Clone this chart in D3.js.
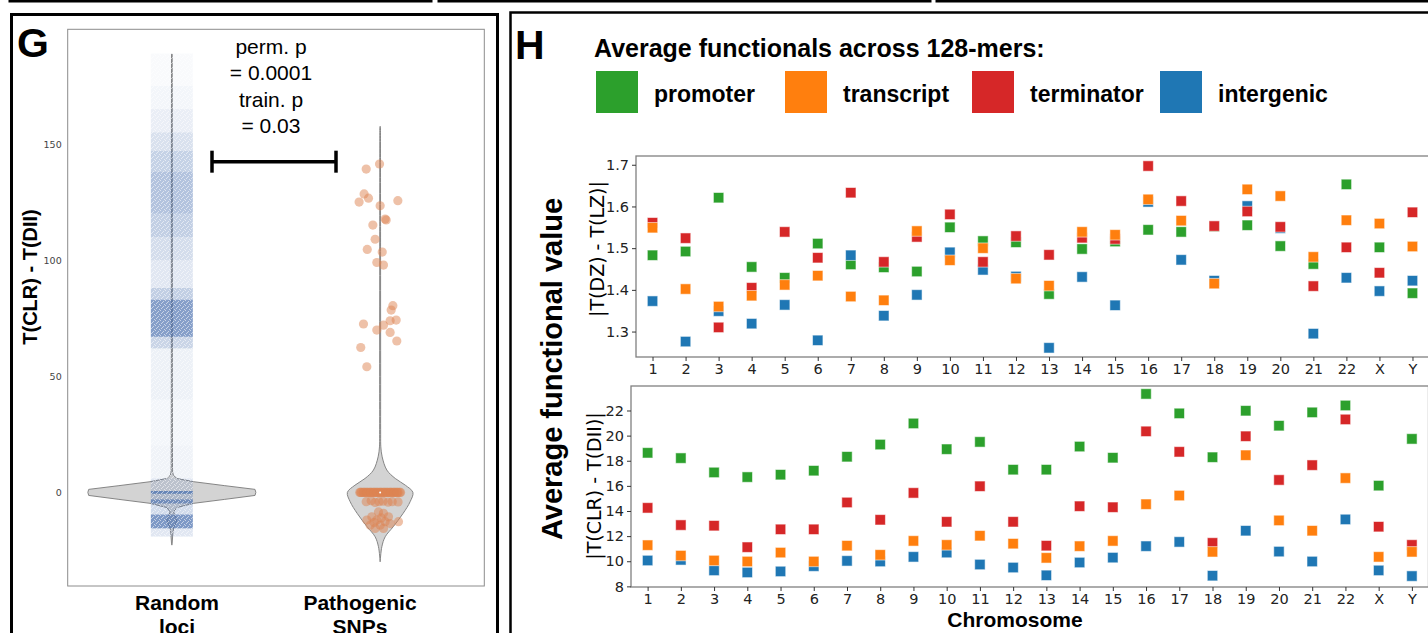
<!DOCTYPE html>
<html>
<head>
<meta charset="utf-8">
<script src="https://cdn.jsdelivr.net/npm/d3@7"></script>
<style>
body { margin: 0; background: #fff; }
svg { display: block; }
</style>
</head>
<body>
<script>
// page size
var w = 1428;
var h = 633;

var sansFont = "'Liberation Sans', Arial, sans-serif";
var dvFont = "'DejaVu Sans', sans-serif";

// ---------- panel G data ----------
var gCategories = ["Random loci", "Pathogenic SNPs"];
var gTicks = [0, 50, 100, 150];
var gPvalText = ["perm. p", "= 0.0001", "train. p", "= 0.03"];

// random loci strip, read as density bands (value low, value high, density 0..1)
var randBandLo  = [175, 165, 155, 147, 138, 120, 110, 100, 88, 83, 67, 62, 40, 20, 6, 0.6, -0.6, -3, -4.8, -9.5, -15.5];
var randBandHi  = [189, 175, 165, 155, 147, 138, 120, 110, 100, 88, 83, 67, 62, 40, 20, 6, 0.6, -0.6, -3, -4.8, -9.5];
var randBandDen = [0.04, 0.08, 0.14, 0.25, 0.38, 0.5, 0.4, 0.28, 0.2, 0.4, 0.8, 0.35, 0.12, 0.08, 0.1, 0.2, 0.95, 0.35, 0.85, 0.3, 0.85];
randBandLo.push(-19); randBandHi.push(-15.5); randBandDen.push(0.2);

// violin outlines (value, relative density)
var randViolinVal = [188.7, 150, 100, 50, 20, 10, 8.7, 7.4, 6.0, 4.6, 2.9, 1.3, 0, -1.3, -3.0, -4.7, -6.5, -8.4, -9.8, -11.5, -13.2, -14.9, -17.5, -21.8, -22.7];
var randViolinDen = [0.004, 0.005, 0.006, 0.006, 0.007, 0.008, 0.01, 0.018, 0.06, 0.26, 0.63, 0.99, 1.0, 0.99, 0.63, 0.26, 0.06, 0.02, 0.036, 0.06, 0.048, 0.024, 0.012, 0.004, 0];
var patViolinVal = [157.5, 100, 50, 25, 19.6, 15.3, 9.6, 6.0, 3.1, 0, -4.0, -9.0, -14.8, -19.1, -23.4, -29.9];
var patViolinDen = [0.004, 0.005, 0.006, 0.006, 0.008, 0.024, 0.08, 0.18, 0.30, 0.39, 0.357, 0.274, 0.155, 0.06, 0.02, 0];

// pathogenic SNP points: jitter (category units) and value
var patJitter = [-0.003, -0.067, -0.077, -0.056, -0.101, 0.085, 0.0, 0.024, 0.029, -0.035, -0.024, -0.062, 0.010, -0.016, 0.016,
                 0.061, 0.053, -0.080, 0.048, 0.077, 0.016, -0.016, 0.048, 0.080, -0.093, -0.064,
                 -0.098, -0.090, -0.082, -0.074, -0.066, -0.058, -0.050, -0.042, -0.034, -0.026, -0.018, -0.010, -0.002,
                 0.006, 0.014, 0.022, 0.030, 0.038, 0.046, 0.054, 0.062, 0.070, 0.078, 0.086, 0.094, 0.098,
                 -0.094, -0.078, -0.062, -0.046, -0.030, -0.014, 0.002, 0.018, 0.034, 0.050, 0.066, 0.082,
                 -0.067, -0.043, -0.024, -0.005, 0.014, 0.038, 0.058, 0.086,
                 -0.008, 0.016, -0.040, 0.040, -0.064, -0.016, 0.024, 0.088, -0.048, 0.0, 0.048, -0.024, 0.016, 0.005, -0.029];
var patValue  = [141.4, 139.2, 128.5, 126.7, 125.0, 125.6, 123.4, 117.7, 117.3, 115.1, 109.0, 104.6, 103.5, 99.0, 97.9,
                 80.4, 78.5, 72.5, 73.9, 74.2, 72.0, 69.9, 68.9, 65.2, 62.4, 54.1,
                 0, 0, 0, 0, 0, 0, 0, 0, 0, 0, 0, 0, 0,
                 0, 0, 0, 0, 0, 0, 0, 0, 0, 0, 0, 0, 0,
                 0, 0, 0, 0, 0, 0, 0, 0, 0, 0, 0, 0,
                 -4.0, -3.6, -4.3, -4.0, -3.8, -4.2, -4.0, -4.1,
                 -8.4, -9.0, -10.5, -10.5, -11.9, -11.9, -12.6, -12.6, -14.1, -14.1, -13.4, -15.5, -15.5, -11.0, -13.0];

// ---------- panel H data ----------
var chromosomes = ["1","2","3","4","5","6","7","8","9","10","11","12","13","14","15","16","17","18","19","20","21","22","X","Y"];
var seriesNames = ["promoter", "transcript", "terminator", "intergenic"];
var dzTicks  = [1.3, 1.4, 1.5, 1.6, 1.7];
var clrTicks = [8, 10, 12, 14, 16, 18, 20, 22];

// |T(DZ) - T(LZ)|
var dzPromoter   = [1.483,1.492,1.621,1.455,1.429,1.511,1.461,1.454,1.444,1.550,1.517,1.514,1.390,1.498,1.516,1.544,1.539,1.552,1.555,1.505,1.462,1.653,1.502,1.392];
var dzTranscript = [1.549,1.402,1.360,1.386,1.412,1.434,1.384,1.375,1.541,1.471,1.500,1.427,1.410,1.539,1.532,1.617,1.566,1.415,1.641,1.625,1.479,1.567,1.559,1.504];
var dzTerminator = [1.561,1.524,1.310,1.405,1.539,1.477,1.633,1.467,1.527,1.581,1.467,1.529,1.484,1.525,1.522,1.697,1.613,1.553,1.588,1.551,1.409,1.502,1.441,1.586];
var dzIntergenic = [1.373,1.276,1.349,1.319,1.364,1.279,1.483,1.338,1.388,1.490,1.448,1.432,1.261,1.431,1.363,1.611,1.472,1.422,1.601,1.548,1.295,1.429,1.397,1.422];

// |T(CLR) - T(DII)|
var clrPromoter   = [18.63,18.21,17.07,16.70,16.89,17.21,18.32,19.29,20.97,18.92,19.50,17.29,17.29,19.13,18.24,23.32,21.77,18.28,21.98,20.79,21.85,22.40,16.02,19.74];
var clrTranscript = [11.28,10.45,10.06,9.98,10.69,9.98,11.24,10.51,11.62,11.30,12.03,11.40,10.27,11.20,11.62,14.54,15.23,10.75,18.44,13.25,12.43,16.62,10.35,10.75];
var clrTerminator = [14.25,12.88,12.83,11.12,12.54,12.54,14.68,13.30,15.44,13.14,15.97,13.14,11.24,14.38,14.30,20.34,18.71,11.46,19.95,16.47,17.65,21.29,12.75,11.30];
var clrIntergenic = [10.06,10.11,9.27,9.11,9.19,9.61,10.03,9.98,10.35,10.69,9.74,9.50,8.88,9.90,10.29,11.20,11.54,8.85,12.43,10.77,9.98,13.33,9.27,8.82];

// colours
var pickCol = function(name) {
    if (name === "promoter") { return "#2ca02c"; }
    else if (name === "transcript") { return "#ff7f0e"; }
    else if (name === "terminator") { return "#d62728"; }
    else { return "#1f77b4"; }
};

var svg = d3.select("body").append("svg")
            .attr("width", w)
            .attr("height", h);

// speckle texture for the dense strip
var pat = svg.append("defs").append("pattern")
             .attr("id", "speckle")
             .attr("patternUnits", "userSpaceOnUse")
             .attr("width", 5).attr("height", 5);
[[0, 0], [3, 1], [1, 3], [4, 4], [2, 2]].forEach(function(p) {
    pat.append("rect").attr("x", p[0]).attr("y", p[1]).attr("width", 1).attr("height", 1)
       .attr("fill", "#fff").attr("fill-opacity", 0.55);
});

// ---------- panel frames ----------
var frames = [[10, -20, 421, 21], [439, -20, 491, 21], [937, -20, 500, 21]];
frames.forEach(function(f) {
    svg.append("rect").attr("x", f[0]).attr("y", f[1]).attr("width", f[2]).attr("height", f[3])
       .attr("fill", "none").attr("stroke", "#000").attr("stroke-width", 3);
});
svg.append("rect").attr("x", 11.5).attr("y", 14.5).attr("width", 486).attr("height", 660)
   .attr("fill", "none").attr("stroke", "#000").attr("stroke-width", 3);
svg.append("rect").attr("x", 510.5).attr("y", 12.5).attr("width", 960).attr("height", 660)
   .attr("fill", "none").attr("stroke", "#000").attr("stroke-width", 2.5);

// ================= panel G =================
var gL = 67.7, gR = 484.3, gT = 29.3, gB = 586;

var yG = d3.scaleLinear().domain([-40.3, 199.4]).range([gB, gT]);
var xG = d3.scalePoint().domain(gCategories).range([gL, gR]).padding(0.5);
var vw = d3.scaleLinear().domain([0, 1]).range([0, 84]);
var stripHalf = 21;

svg.append("text").text("G")
   .attr("x", 17).attr("y", 57)
   .style("font-family", sansFont).style("font-weight", "bold").style("font-size", "41px");

// violins
var violin = function(cat, vals, dens, curve) {
    var pts = vals.map(function(v, i) { return { v: v, d: dens[i] }; });
    var cx = xG(cat);
    var area = d3.area()
        .y(function(d) { return yG(d.v); })
        .x0(function(d) { return cx - vw(d.d); })
        .x1(function(d) { return cx + vw(d.d); })
        .curve(curve);
    svg.append("path").datum(pts)
       .attr("d", area)
       .attr("fill", "#d3d3d3")
       .attr("stroke", "#858585")
       .attr("stroke-width", 1);
};
violin("Random loci", randViolinVal, randViolinDen, d3.curveLinear);
violin("Pathogenic SNPs", patViolinVal, patViolinDen, d3.curveCatmullRom.alpha(0.5));

// random loci strip
var bands = randBandLo.map(function(lo, i) { return { lo: lo, hi: randBandHi[i], den: randBandDen[i] }; });
svg.selectAll("rect.band")
   .data(bands)
   .enter()
   .append("rect")
   .attr("class", "band")
   .attr("x", xG("Random loci") - stripHalf)
   .attr("width", stripHalf * 2)
   .attr("y", function(d) { return yG(d.hi); })
   .attr("height", function(d) { return yG(d.lo) - yG(d.hi); })
   .attr("fill", "#4c72b0")
   .attr("fill-opacity", function(d) { return d.den * 0.85; });
svg.append("rect")
   .attr("x", xG("Random loci") - stripHalf)
   .attr("width", stripHalf * 2)
   .attr("y", yG(d3.max(randBandHi)))
   .attr("height", yG(d3.min(randBandLo)) - yG(d3.max(randBandHi)))
   .attr("fill", "url(#speckle)");

// pathogenic points
var patPts = patValue.map(function(v, i) { return { v: v, j: patJitter[i] }; });
svg.selectAll("circle.pat")
   .data(patPts)
   .enter()
   .append("circle")
   .attr("class", "pat")
   .attr("cx", function(d) { return xG("Pathogenic SNPs") + d.j * xG.step(); })
   .attr("cy", function(d) { return yG(d.v); })
   .attr("r", 4.6)
   .attr("fill", "#dd8452")
   .attr("fill-opacity", 0.5);

svg.append("circle")
   .attr("cx", xG("Pathogenic SNPs")).attr("cy", yG(0)).attr("r", 1)
   .attr("fill", "#fff");

// spines
svg.append("rect").attr("x", gL).attr("y", gT).attr("width", gR - gL).attr("height", gB - gT)
   .attr("fill", "none").attr("stroke", "#8c8c8c").attr("stroke-width", 1);

// y axis
var axisYG = d3.axisLeft(yG).tickValues(gTicks).tickSize(0).tickPadding(6);
var gAx = svg.append("g").attr("transform", "translate(" + gL + ",0)").call(axisYG);
gAx.select(".domain").remove();
gAx.selectAll("text").style("font-family", dvFont).style("font-size", "9.5px").attr("fill", "#444");

// y label
svg.append("text").text("T(CLR) - T(DII)")
   .attr("transform", "translate(37," + 277 + ") rotate(-90)")
   .attr("text-anchor", "middle")
   .style("font-family", sansFont).style("font-weight", "bold").style("font-size", "20px");

// category labels (second line runs off the bottom, as in the figure)
var catLabX = [177, 360];
var catLines = [["Random", "loci"], ["Pathogenic", "SNPs"]];
catLines.forEach(function(lines, i) {
    lines.forEach(function(t, k) {
        svg.append("text").text(t)
           .attr("x", catLabX[i]).attr("y", 610 + k * 24)
           .attr("text-anchor", "middle")
           .style("font-family", sansFont).style("font-weight", "bold").style("font-size", "21px");
    });
});

// p-value text and bracket
gPvalText.forEach(function(t, k) {
    svg.append("text").text(t)
       .attr("x", 271).attr("y", 54 + k * 26.3)
       .attr("text-anchor", "middle")
       .style("font-family", sansFont).style("font-size", "21px");
});
var brY = yG(142.4);
svg.append("line").attr("x1", 212).attr("x2", 336).attr("y1", brY).attr("y2", brY)
   .attr("stroke", "#000").attr("stroke-width", 3.5);
[212, 336].forEach(function(x) {
    svg.append("line").attr("x1", x).attr("x2", x).attr("y1", brY - 11).attr("y2", brY + 11)
       .attr("stroke", "#000").attr("stroke-width", 3.5);
});

// ================= panel H =================
svg.append("text").text("H")
   .attr("x", 515).attr("y", 59)
   .style("font-family", sansFont).style("font-weight", "bold").style("font-size", "41px");

svg.append("text").text("Average functionals across 128-mers:")
   .attr("x", 594).attr("y", 57)
   .style("font-family", sansFont).style("font-weight", "bold").style("font-size", "25px");

// legend
var legX = [596, 785, 972, 1160];
seriesNames.forEach(function(s, i) {
    svg.append("rect").attr("x", legX[i]).attr("y", 71).attr("width", 42).attr("height", 42)
       .attr("fill", pickCol(s));
    svg.append("text").text(s)
       .attr("x", legX[i] + 58).attr("y", 102)
       .style("font-family", sansFont).style("font-weight", "bold").style("font-size", "23px");
});

// one scatter subplot
var drawSub = function(box, domainY, ticks, fmt, series) {
    var x = d3.scalePoint().domain(chromosomes).range([box.l, box.r]).padding(0.5);
    var y = d3.scaleLinear().domain(domainY).range([box.b, box.t]);

    // markers, drawn in this order: promoter, intergenic, terminator, transcript
    var order = ["promoter", "intergenic", "terminator", "transcript"];
    order.forEach(function(s) {
        var vals = series[s];
        svg.append("g").selectAll("rect")
           .data(vals)
           .enter()
           .append("rect")
           .attr("x", function(d, i) { return x(chromosomes[i]) - 5.2; })
           .attr("y", function(d) { return y(d) - 5.2; })
           .attr("width", 10.4)
           .attr("height", 10.4)
           .attr("fill", pickCol(s))
           .attr("stroke", "rgba(255,255,255,0.55)")
           .attr("stroke-width", 1);
    });

    svg.append("rect").attr("x", box.l).attr("y", box.t).attr("width", box.r - box.l).attr("height", box.b - box.t)
       .attr("fill", "none").attr("stroke", "#808080").attr("stroke-width", 1.3);

    var ax = svg.append("g").attr("transform", "translate(" + box.l + ",0)")
                .call(d3.axisLeft(y).tickValues(ticks).tickSize(4).tickPadding(3).tickFormat(fmt));
    var bx = svg.append("g").attr("transform", "translate(0," + box.b + ")")
                .call(d3.axisBottom(x).tickSize(4).tickPadding(3));
    [ax, bx].forEach(function(a) {
        a.select(".domain").remove();
        a.selectAll("line").attr("stroke", "#333");
        a.selectAll("text").style("font-family", dvFont).style("font-size", "14.5px").attr("fill", "#222");
    });
};

drawSub({ l: 636, r: 1429, t: 156, b: 357 }, [1.239, 1.721], dzTicks, d3.format(".1f"),
        { promoter: dzPromoter, transcript: dzTranscript, terminator: dzTerminator, intergenic: dzIntergenic });
drawSub({ l: 631, r: 1428.5, t: 386, b: 587 }, [7.95, 23.95], clrTicks, d3.format("d"),
        { promoter: clrPromoter, transcript: clrTranscript, terminator: clrTerminator, intergenic: clrIntergenic });

// axis labels
svg.append("text").text("Average functional value")
   .attr("transform", "translate(562,369) rotate(-90)")
   .attr("text-anchor", "middle")
   .style("font-family", sansFont).style("font-weight", "bold").style("font-size", "29px");
svg.append("text").text("|T(DZ) - T(LZ)|")
   .attr("transform", "translate(604,249) rotate(-90)")
   .attr("text-anchor", "middle")
   .style("font-family", dvFont).style("font-size", "19px");
svg.append("text").text("|T(CLR) - T(DII)|")
   .attr("transform", "translate(601,486) rotate(-90)")
   .attr("text-anchor", "middle")
   .style("font-family", dvFont).style("font-size", "19px");
svg.append("text").text("Chromosome")
   .attr("x", 1015).attr("y", 627)
   .attr("text-anchor", "middle")
   .style("font-family", sansFont).style("font-weight", "bold").style("font-size", "21px");
</script>
</body>
</html>
